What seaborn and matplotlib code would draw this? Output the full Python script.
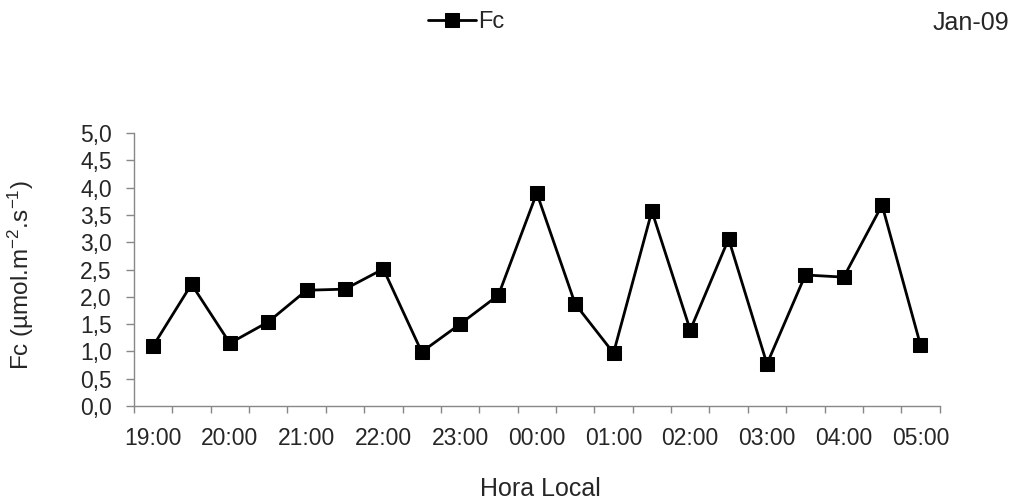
import numpy as np
import pandas as pd
import matplotlib
matplotlib.use('Agg')
import matplotlib.pyplot as plt
import seaborn as sns

# half-hour local times, 19:00 -> 05:00
hours = ['19:00', '19:30', '20:00', '20:30', '21:00', '21:30', '22:00',
         '22:30', '23:00', '23:30', '00:00', '00:30', '01:00', '01:30',
         '02:00', '02:30', '03:00', '03:30', '04:00', '04:30', '05:00']
fc = [1.10, 2.23, 1.15, 1.54, 2.12, 2.14, 2.51, 0.99, 1.50, 2.03, 3.90,
      1.87, 0.97, 3.57, 1.39, 3.06, 0.77, 2.40, 2.36, 3.68, 1.12]
y_ticks = [0.0, 0.5, 1.0, 1.5, 2.0, 2.5, 3.0, 3.5, 4.0, 4.5, 5.0]
y_labels = ['0,0', '0,5', '1,0', '1,5', '2,0', '2,5', '3,0', '3,5', '4,0', '4,5', '5,0']

df = pd.DataFrame({'Hora': hours, 'Fc': fc})
df['pos'] = np.arange(len(df))

sns.set_theme(style='white')
plt.rcParams['font.family'] = ['Liberation Sans', 'DejaVu Sans']
plt.rcParams['mathtext.fontset'] = 'custom'
plt.rcParams['mathtext.rm'] = 'Liberation Sans'
plt.rcParams['mathtext.default'] = 'regular'

fig = plt.figure(figsize=(10.18, 5.0), dpi=100)
ax = fig.add_axes([0.1316, 0.188, 0.7914, 0.546])

sns.lineplot(data=df, x='pos', y='Fc', ax=ax, color='black', linewidth=2,
             marker='s', markersize=10, markeredgecolor='black', label='Fc',
             legend=False)

ax.set_xlim(-0.5, len(hours) - 0.5)
ax.set_ylim(0, 5)

# tick marks between categories, labels every hour
ax.set_xticks(np.arange(-0.5, len(hours), 1.0))
ax.set_xticklabels([])
ax.set_xticks(df['pos'][::2], minor=True)
ax.set_xticklabels(df['Hora'][::2], minor=True, fontsize=16.5)
ax.tick_params(axis='x', which='major', direction='out', length=5, width=1,
               color='#888888', bottom=True)
ax.tick_params(axis='x', which='minor', length=0, pad=15, bottom=True)

ax.set_yticks(y_ticks)
ax.set_yticklabels(y_labels, fontsize=16.5)
ax.tick_params(axis='y', direction='out', length=5.5, width=1, color='#888888',
               left=True, pad=10.5)

for side in ['top', 'right']:
    ax.spines[side].set_visible(False)
for side in ['left', 'bottom']:
    ax.spines[side].set_color('#888888')
    ax.spines[side].set_linewidth(1)

ax.set_xlabel('Hora Local', fontsize=18)
ax.xaxis.set_label_coords(0.505, -0.26)
ax.set_ylabel('Fc (µmol.m$^{-2}$.s$^{-1}$)', fontsize=17.5)
ax.yaxis.set_label_coords(-0.122, 0.478)

handles, labels = ax.get_legend_handles_labels()
fig.legend(handles, labels, loc='center', bbox_to_anchor=(0.458, 0.955),
           frameon=False, fontsize=17, handlelength=2.0, handletextpad=0.1,
           markerscale=1.0)
fig.text(0.991, 0.955, 'Jan-09', ha='right', va='center', fontsize=18)

fig.savefig('out.png', dpi=100)
